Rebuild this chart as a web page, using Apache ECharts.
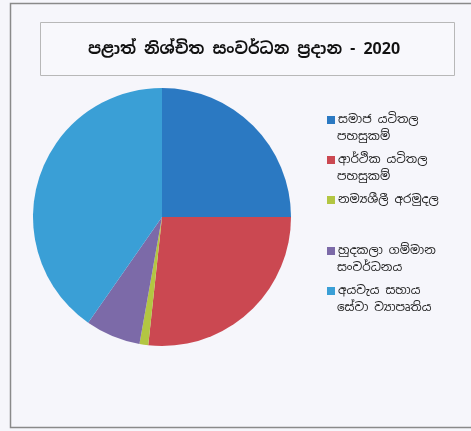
<!DOCTYPE html>
<html><head><meta charset="utf-8">
<script src="https://cdn.jsdelivr.net/npm/echarts@6/dist/echarts.min.js"></script>
<style>html,body{margin:0;padding:0;background:#f6f6fb}#c{width:471px;height:431px}</style>
</head><body><div id="c"></div>
<script>
const titleText = 'පළාත් නිශ්චිත සංවර්ධන ප්‍රදාන - 2020';
const categories = ['සමාජ යටිතල\nපහසුකම්', 'ආර්ථික යටිතල\nපහසුකම්', 'නම්‍යශීලී අරමුදල', 'හුදකලා ගම්මාන\nසංවර්ධනය', 'අයවැය සහාය\nසේවා ව්‍යාපෘතිය'];
const values = [25.0, 26.7, 1.1, 6.9, 40.3];
const colors = ['#2b79c2', '#cb4851', '#b3c642', '#7c6aa8', '#3a9fd6'];
const legendLineY = [117, 157, 197, 248, 288];

const font = '"Noto Sans Sinhala","Iskoola Pota","Noto Sans","DejaVu Sans",sans-serif';
const chart = echarts.init(document.getElementById('c'));

const secondLines = [];
categories.forEach((c, i) => {
  const parts = c.split('\n');
  if (parts[1]) {
    secondLines.push({type: 'text', x: 337, y: legendLineY[i] + 20,
      style: {text: parts[1], font: '12px ' + font, fill: '#222', align: 'left', verticalAlign: 'middle'}});
  }
});

chart.setOption({
  backgroundColor: '#f6f6fb',
  animation: false,
  graphic: [
    {type: 'rect', shape: {x: 10.5, y: 3.5, width: 470, height: 424}, style: {fill: 'none', stroke: '#8a8a8a', lineWidth: 1.5}},
    {type: 'rect', shape: {x: 40.5, y: 22.5, width: 414, height: 53}, style: {fill: '#f8f8fc', stroke: '#b8b8b8', lineWidth: 1}},
    {type: 'text', x: 244, y: 50, style: {text: titleText, font: 'bold 16px ' + font, fill: '#111', align: 'center', verticalAlign: 'middle'}}
  ].concat(secondLines),
  legend: categories.map((c, i) => ({
    orient: 'vertical', left: 322, top: legendLineY[i] - 10,
    data: [c], itemWidth: 8, itemHeight: 8, icon: 'rect', itemGap: 0,
    formatter: n => n.split('\n')[0],
    textStyle: {fontFamily: font, fontSize: 12, color: '#222', lineHeight: 16, padding: [0, 0, 0, -2]},
    selectedMode: false
  })),
  series: [{
    type: 'pie', center: [162, 217], radius: 129, startAngle: 90, clockwise: true,
    label: {show: false}, labelLine: {show: false},
    itemStyle: {borderWidth: 0},
    emphasis: {disabled: true},
    data: categories.map((c, i) => ({name: c, value: values[i], itemStyle: {color: colors[i]}}))
  }]
});
</script></body></html>
